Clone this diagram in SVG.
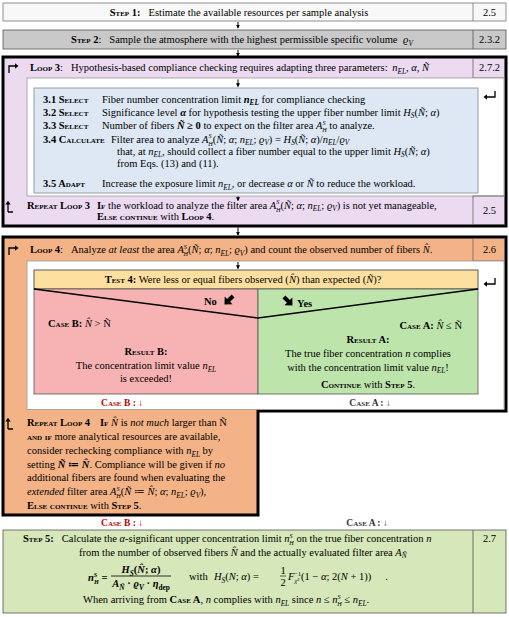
<svg xmlns="http://www.w3.org/2000/svg" width="509" height="617" viewBox="0 0 509 617">
<defs>
<style>
.t{font-family:"Liberation Serif","DejaVu Serif",serif;font-size:10.5px;fill:#000}
.sc{font-variant:small-caps;font-weight:bold}
.i{font-style:italic}
.b{font-weight:bold}
.s{font-size:7.3px}
.ss{font-size:6.2px}
.m{text-anchor:middle}
.cell{fill:none;stroke:#666;stroke-width:0.8}
.conn{stroke:#000;stroke-width:1;fill:none;marker-end:url(#ah)}
.ico{stroke:#000;stroke-width:1.3;fill:none}
</style>
<marker id="ah" viewBox="0 0 6 6" refX="5" refY="3" markerWidth="4" markerHeight="4" markerUnits="userSpaceOnUse" orient="auto">
<path d="M0,0 L6,3 L0,6 Z" fill="#000"/>
</marker>
<path id="fat" d="M-5,-1.8 H0.5 V-4.8 L5.5,0 L0.5,4.8 V1.8 H-5 Z" fill="#000"/>
</defs>
<rect width="509" height="617" fill="#fff"/>

<g id="step1">
<rect x="3" y="3" width="503" height="18" fill="#f8f8f8" stroke="#777" stroke-width="0.8"/>
<line x1="473" y1="3" x2="473" y2="21" stroke="#777" stroke-width="0.8"/>
<text class="t m" x="239" y="15.5"><tspan class="sc">Step 1:</tspan><tspan dx="8">Estimate the available resources per sample analysis</tspan></text>
<text class="t m" x="489.5" y="15.5">2.5</text>
</g>

<g id="step2">
<rect x="3" y="30" width="503" height="19" fill="#c9c9c9" stroke="#555" stroke-width="0.8"/>
<line x1="473" y1="30" x2="473" y2="49" stroke="#555" stroke-width="0.8"/>
<text class="t m" x="242" y="43"><tspan class="sc">Step 2</tspan>:<tspan dx="8">Sample the atmosphere with the highest permissible specific volume </tspan><tspan class="i" dx="3">ϱ</tspan><tspan class="s i" dy="2.5">V</tspan></text>
<text class="t m" x="489.5" y="43">2.3.2</text>
</g>

<g id="loop3">
<rect x="3" y="57" width="503" height="169" fill="#ebdaf0" stroke="#000" stroke-width="3"/>
<rect x="473" y="58.5" width="31.5" height="19.5" class="cell"/>
<path class="ico" d="M9,73 V66 H15"/><path d="M15,63.3 L18.5,66 L15,68.7 Z"/>
<text class="t" x="30" y="71"><tspan class="sc">Loop 3</tspan>:<tspan dx="8">Hypothesis-based compliance checking requires adapting three parameters: </tspan><tspan class="i" dx="2">n</tspan><tspan class="s i" dy="2.5">EL</tspan><tspan dy="-2.5">, </tspan><tspan class="i">α</tspan>, <tspan class="i">Ñ</tspan></text>
<text class="t m" x="489.5" y="71">2.7.2</text>

<rect x="27" y="78" width="477" height="118" fill="#fff" stroke="#999" stroke-width="0.8"/>
<path class="ico" d="M495,91 V97 H487"/><path d="M487,94.3 L483.5,97 L487,99.7 Z"/>

<g id="box3">
<rect x="34" y="88" width="444" height="105" fill="#dde8f4" stroke="#888" stroke-width="0.8"/>
<text class="t" x="43" y="102.5"><tspan class="sc">3.1 Select</tspan></text>
<text class="t" x="102" y="102.5">Fiber number concentration limit <tspan class="b i">n</tspan><tspan class="s b i" dy="2.5">EL</tspan><tspan dy="-2.5"> for compliance checking</tspan></text>
<text class="t" x="43" y="115.5"><tspan class="sc">3.2 Select</tspan></text>
<text class="t" x="102" y="115.5">Significance level <tspan class="b i">α</tspan> for hypothesis testing the upper fiber number limit <tspan class="i">H</tspan><tspan class="s i" dy="2.5">S</tspan><tspan dy="-2.5">(</tspan><tspan class="i">Ñ</tspan>; <tspan class="i">α</tspan>)</text>
<text class="t" x="43" y="129"><tspan class="sc">3.3 Select</tspan></text>
<text class="t" x="102" y="129">Number of fibers <tspan class="b i">Ñ</tspan><tspan class="b"> ≥ 0</tspan> to expect on the filter area <tspan class="i">A</tspan><tspan class="ss i" dy="-4.2">S</tspan><tspan class="ss i" dx="-3.3" dy="7.2">H</tspan><tspan dy="-3"> to analyze.</tspan></text>
<text class="t" x="43" y="142.5"><tspan class="sc">3.4 Calculate</tspan></text>
<text class="t" x="111" y="142.5">Filter area to analyze <tspan class="i">A</tspan><tspan class="ss i" dy="-4.2">S</tspan><tspan class="ss i" dx="-3.3" dy="7.2">H</tspan><tspan dy="-3">(</tspan><tspan class="i">Ñ</tspan>; <tspan class="i">α</tspan>; <tspan class="i">n</tspan><tspan class="s i" dy="2.5">EL</tspan><tspan dy="-2.5">; </tspan><tspan class="i">ϱ</tspan><tspan class="s i" dy="2.5">V</tspan><tspan dy="-2.5">) = </tspan><tspan class="i">H</tspan><tspan class="s i" dy="2.5">S</tspan><tspan dy="-2.5">(</tspan><tspan class="i">Ñ</tspan>; <tspan class="i">α</tspan>)/<tspan class="i">n</tspan><tspan class="s i" dy="2.5">EL</tspan><tspan dy="-2.5">/</tspan><tspan class="i">ϱ</tspan><tspan class="s i" dy="2.5">V</tspan></text>
<text class="t" x="117" y="154.5">that, at <tspan class="i">n</tspan><tspan class="s i" dy="2.5">EL</tspan><tspan dy="-2.5">, should collect a fiber number equal to the upper limit </tspan><tspan class="i">H</tspan><tspan class="s i" dy="2.5">S</tspan><tspan dy="-2.5">(</tspan><tspan class="i">Ñ</tspan>; <tspan class="i">α</tspan>)</text>
<text class="t" x="117" y="166.5">from Eqs. (13) and (11).</text>
<text class="t" x="43" y="187"><tspan class="sc">3.5 Adapt</tspan></text>
<text class="t" x="102" y="187">Increase the exposure limit <tspan class="i">n</tspan><tspan class="s i" dy="2.5">EL</tspan><tspan dy="-2.5">, or decrease </tspan><tspan class="i">α</tspan> or <tspan class="i">Ñ</tspan> to reduce the workload.</text>
</g>

<rect x="473" y="196" width="31.5" height="28.5" class="cell"/>
<path class="ico" d="M8,212 V204 M8,212 H13"/><path d="M5.3,204.5 L8,200.8 L10.7,204.5 Z"/>
<text class="t" x="27" y="208.5"><tspan class="sc">Repeat Loop 3</tspan></text>
<text class="t" x="97" y="208.5"><tspan class="sc">If</tspan> the workload to analyze the filter area <tspan class="i">A</tspan><tspan class="ss i" dy="-4.2">S</tspan><tspan class="ss i" dx="-3.3" dy="7.2">H</tspan><tspan dy="-3">(</tspan><tspan class="i">Ñ</tspan>; <tspan class="i">α</tspan>; <tspan class="i">n</tspan><tspan class="s i" dy="2.5">EL</tspan><tspan dy="-2.5">; </tspan><tspan class="i">ϱ</tspan><tspan class="s i" dy="2.5">V</tspan><tspan dy="-2.5">) is not yet manageable,</tspan></text>
<text class="t" x="97" y="220"><tspan class="sc">Else continue</tspan> with <tspan class="sc">Loop 4</tspan>.</text>
<text class="t m" x="489.5" y="214">2.5</text>
</g>

<g id="loop4">
<path d="M3,237 H506 V411 H258 V515 H3 Z" fill="#f4b386" stroke="#000" stroke-width="3"/>
<rect x="473" y="238.5" width="31.5" height="22.5" class="cell"/>
<path class="ico" d="M9,255 V248 H15"/><path d="M15,245.3 L18.5,248 L15,250.7 Z"/>
<text class="t" x="30" y="253"><tspan class="sc">Loop 4</tspan>:<tspan dx="8">Analyze </tspan><tspan class="i">at least</tspan> the area <tspan class="i">A</tspan><tspan class="ss i" dy="-4.2">S</tspan><tspan class="ss i" dx="-3.3" dy="7.2">H</tspan><tspan dy="-3">(</tspan><tspan class="i">Ñ</tspan>; <tspan class="i">α</tspan>; <tspan class="i">n</tspan><tspan class="s i" dy="2.5">EL</tspan><tspan dy="-2.5">; </tspan><tspan class="i">ϱ</tspan><tspan class="s i" dy="2.5">V</tspan><tspan dy="-2.5">) and count the observed number of fibers </tspan><tspan class="i">N̂</tspan>.</text>
<text class="t m" x="489.5" y="253">2.6</text>

<rect x="27" y="261" width="477" height="148.5" fill="#fff" stroke="#999" stroke-width="0.8"/>
<path class="ico" d="M495,278 V284 H487"/><path d="M487,281.3 L483.5,284 L487,286.7 Z"/>

<g id="test4">
<rect x="34" y="270" width="444" height="19" fill="#fde0a0" stroke="#333" stroke-width="0.8"/>
<text class="t m" x="243" y="283"><tspan class="sc">Test 4:</tspan> Were less or equal fibers observed (<tspan class="i">N̂</tspan>) than expected (<tspan class="i">Ñ</tspan>)?</text>
</g>

<g id="caseB">
<rect x="34" y="289" width="224" height="105" fill="#f7b3b3" stroke="#555" stroke-width="0.8"/>
<text class="t b" x="204" y="305">No</text>
<use href="#fat" transform="translate(229,300) rotate(135) scale(1.15)"/>
<text class="t" x="48" y="327"><tspan class="sc">Case B:</tspan> <tspan class="i">N̂</tspan> &gt; Ñ</text>
<text class="t m" x="146" y="355"><tspan class="sc">Result B:</tspan></text>
<text class="t m" x="146" y="369">The concentration limit value <tspan class="i">n</tspan><tspan class="s i" dy="2.5">EL</tspan></text>
<text class="t m" x="146" y="382">is exceeded!</text>
</g>

<g id="caseA">
<rect x="258" y="289" width="220" height="105" fill="#bde5ab" stroke="#555" stroke-width="0.8"/>
<use href="#fat" transform="translate(288,301) rotate(45) scale(1.15)"/>
<text class="t b" x="297" y="307">Yes</text>
<text class="t" x="462" y="329" text-anchor="end"><tspan class="sc">Case A:</tspan> <tspan class="i">N̂</tspan> ≤ Ñ</text>
<text class="t m" x="368" y="343"><tspan class="sc">Result A:</tspan></text>
<text class="t m" x="368" y="357">The true fiber concentration <tspan class="i">n</tspan> complies</text>
<text class="t m" x="368" y="370.5">with the concentration limit value <tspan class="i">n</tspan><tspan class="s i" dy="2.5">EL</tspan><tspan dy="-2.5">!</tspan></text>
<text class="t m" x="368" y="388"><tspan class="sc">Continue</tspan> with <tspan class="sc">Step 5</tspan>.</text>
</g>

<path d="M34,289 L258,318 L478,289" fill="none" stroke="#000" stroke-width="1.3"/>

<text class="t m" x="122" y="406" style="fill:#c00000;font-size:9.5px"><tspan class="sc">Case B :</tspan> <tspan class="b">↓</tspan></text>
<text class="t m" x="370" y="406" style="fill:#333;font-size:9.5px"><tspan class="sc">Case A :</tspan> <tspan class="b">↓</tspan></text>

<path class="ico" d="M8,429 V421 M8,429 H13"/><path d="M5.3,421.5 L8,417.8 L10.7,421.5 Z"/>
<text class="t" x="27" y="426"><tspan class="sc">Repeat Loop 4</tspan></text>
<text class="t" x="100" y="426"><tspan class="sc">If</tspan> <tspan class="i">N̂</tspan> is <tspan class="i">not much</tspan> larger than Ñ</text>
<text class="t" x="27" y="440"><tspan class="sc">and if</tspan> more analytical resources are available,</text>
<text class="t" x="27" y="454">consider rechecking compliance with <tspan class="i">n</tspan><tspan class="s i" dy="2.5">EL</tspan><tspan dy="-2.5"> by</tspan></text>
<text class="t" x="27" y="467.5">setting <tspan class="b i">Ñ</tspan><tspan class="b"> ≔ </tspan><tspan class="b i">N̂</tspan>. Compliance will be given if <tspan class="i">no</tspan></text>
<text class="t" x="27" y="481">additional fibers are found when evaluating the</text>
<text class="t" x="27" y="495"><tspan class="i">extended</tspan> filter area <tspan class="i">A</tspan><tspan class="ss i" dy="-4.2">S</tspan><tspan class="ss i" dx="-3.3" dy="7.2">H</tspan><tspan dy="-3">(</tspan><tspan class="i">Ñ</tspan> ≔ <tspan class="i">N̂</tspan>; <tspan class="i">α</tspan>; <tspan class="i">n</tspan><tspan class="s i" dy="2.5">EL</tspan><tspan dy="-2.5">; </tspan><tspan class="i">ϱ</tspan><tspan class="s i" dy="2.5">V</tspan><tspan dy="-2.5">),</tspan></text>
<text class="t" x="27" y="508.5"><tspan class="sc">Else continue</tspan> with <tspan class="sc">Step 5</tspan>.</text>
</g>

<text class="t m" x="122" y="526" style="fill:#c00000;font-size:9.5px"><tspan class="sc">Case B :</tspan> <tspan class="b">↓</tspan></text>
<text class="t m" x="367" y="526" style="fill:#333;font-size:9.5px"><tspan class="sc">Case A :</tspan> <tspan class="b">↓</tspan></text>

<g id="step5">
<rect x="3" y="530" width="503" height="83" fill="#d6e7b9" stroke="#555" stroke-width="0.8"/>
<line x1="473" y1="530" x2="473" y2="613" stroke="#555" stroke-width="0.8"/>
<text class="t m" x="489.5" y="542">2.7</text>
<text class="t" x="23" y="542"><tspan class="sc">Step 5:</tspan><tspan dx="8">Calculate the </tspan><tspan class="i">α</tspan>-significant upper concentration limit <tspan class="i">n</tspan><tspan class="ss i" dy="-4.2">S</tspan><tspan class="ss i" dx="-3.3" dy="7.2">H</tspan><tspan dy="-3"> on the true fiber concentration </tspan><tspan class="i">n</tspan></text>
<text class="t" x="79" y="555.5">from the number of observed fibers <tspan class="i">N̂</tspan> and the actually evaluated filter area <tspan class="i">A</tspan><tspan class="s i" dy="2.5">Ñ</tspan></text>
<text class="t b" x="88" y="581"><tspan class="i">n</tspan><tspan class="ss i" dy="-4.2">S</tspan><tspan class="ss i" dx="-3.3" dy="7.2">H</tspan><tspan dy="-3" class="b"> =</tspan></text>
<text class="t b m" x="141" y="573"><tspan class="i">H</tspan><tspan class="s i" dy="2.5">S</tspan><tspan dy="-2.5">(</tspan><tspan class="i">N̂</tspan>; <tspan class="i">α</tspan>)</text>
<line x1="111" y1="576" x2="171" y2="576" stroke="#000" stroke-width="0.8"/>
<text class="t b m" x="141" y="587"><tspan class="i">A</tspan><tspan class="s i" dy="2.5">Ñ</tspan><tspan dy="-2.5"> · </tspan><tspan class="i">ϱ</tspan><tspan class="s i" dy="2.5">V</tspan><tspan dy="-2.5"> · </tspan><tspan class="i">η</tspan><tspan class="s" dy="2.5">dep</tspan></text>
<text class="t" x="189" y="580">with</text>
<text class="t" x="214" y="580"><tspan class="i">H</tspan><tspan class="s i" dy="2.5">S</tspan><tspan dy="-2.5">(</tspan><tspan class="i">N</tspan>; <tspan class="i">α</tspan>) =</text>
<text class="t m" x="283" y="573.5">1</text>
<line x1="280" y1="576" x2="286" y2="576" stroke="#000" stroke-width="0.6"/>
<text class="t m" x="283" y="585.5">2</text>
<text class="t" x="288" y="580"><tspan class="i">F</tspan><tspan class="ss" dy="-4.2">−1</tspan><tspan class="ss i" dx="-6.5" dy="7.2">χ²</tspan><tspan dy="-3" dx="2">(1 − </tspan><tspan class="i">α</tspan>; 2(<tspan class="i">N</tspan> + 1))<tspan dx="14">.</tspan></text>
<text class="t" x="83" y="603">When arriving from <tspan class="sc">Case A</tspan>, <tspan class="i">n</tspan> complies with <tspan class="i">n</tspan><tspan class="s i" dy="2.5">EL</tspan><tspan dy="-2.5"> since </tspan><tspan class="i">n</tspan> ≤ <tspan class="i">n</tspan><tspan class="ss i" dy="-4.2">S</tspan><tspan class="ss i" dx="-3.3" dy="7.2">H</tspan><tspan dy="-3"> ≤ </tspan><tspan class="i">n</tspan><tspan class="s i" dy="2.5">EL</tspan><tspan dy="-2.5">.</tspan></text>
</g>

<g id="connectors">
<path class="conn" d="M238,22 V28"/>
<path class="conn" d="M238,50 V56"/>
<path class="conn" d="M238,79.5 V86.5"/>
<path class="conn" d="M238,196.5 V200.5"/>
<path class="conn" d="M238,227.5 V235"/>
<path class="conn" d="M238,262 V268.5"/>
</g>
</svg>
